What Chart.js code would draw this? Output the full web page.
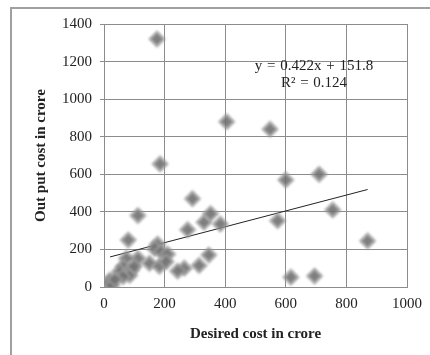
<!DOCTYPE html>
<html>
<head>
<meta charset="utf-8">
<script src="https://cdn.jsdelivr.net/npm/chart.js@4"></script>
<style>
  html, body { margin: 0; padding: 0; background: #fff; }
  #wrap { position: relative; width: 430px; height: 355px; }
  #frame { position: absolute; left: 10px; top: 7px; width: 430px; height: 360px;
           border-left: 2px solid #a0a0a0; border-top: 2px solid #a0a0a0; }
  #eq { position: absolute; left: 246px; top: 57px; width: 136px; font: 15px "Liberation Serif", serif;
        color: #222; text-align: center; line-height: 17px; word-spacing: 1px; }
  canvas { position: absolute; left: 0; top: 0; }
</style>
</head>
<body>
<div id="wrap">
  <div id="frame"></div>
  <canvas id="chart" width="430" height="355"></canvas>
  <div id="eq">y = 0.422x + 151.8<br>R² = 0.124</div>
</div>
<script>
const desiredCost = [175, 185, 405, 548, 600, 710, 755, 573, 870, 617, 695,
  292, 112, 80, 276, 330, 352, 384, 346, 314, 265, 243,
  177, 167, 188, 210, 150, 183, 205, 112, 74, 63, 52, 90, 85, 63, 20, 16, 26, 100, 36];
const outputCost = [1320, 655, 880, 840, 570, 600, 410, 353, 245, 52, 58,
  470, 380, 250, 305, 345, 390, 335, 170, 115, 100, 85,
  228, 205, 188, 175, 126, 110, 135, 152, 152, 108, 82, 90, 62, 55, 37, 20, 10, 110, 40];
const trendX = [20, 870];
const trendY = [160, 519];
const xTicks = [0, 200, 400, 600, 800, 1000];
const yTicks = [0, 200, 400, 600, 800, 1000, 1200, 1400];

const serif = "'Liberation Serif', 'Times New Roman', serif";

// soft edges on the markers, like the original picture
const softMarkers = {
  id: "softMarkers",
  beforeDatasetDraw(chart, args) {
    if (args.index === 0) { chart.ctx.save(); chart.ctx.filter = "blur(1.1px)"; }
  },
  afterDatasetDraw(chart, args) {
    if (args.index === 0) chart.ctx.restore();
  }
};

new Chart(document.getElementById("chart"), {
  type: "scatter",
  data: {
    datasets: [
      {
        data: desiredCost.map((x, i) => ({ x: x, y: outputCost[i] })),
        pointStyle: "rectRot",
        pointRadius: 7,
        backgroundColor: "rgba(112,112,112,0.9)",
        borderColor: "rgba(160,160,160,0.6)",
        borderWidth: 3
      },
      {
        type: "line",
        data: trendX.map((x, i) => ({ x: x, y: trendY[i] })),
        borderColor: "#222",
        borderWidth: 1,
        pointRadius: 0,
        fill: false
      }
    ]
  },
  options: {
    responsive: false,
    animation: false,
    layout: { padding: { left: 28, right: 14, top: 24, bottom: 8 } },
    plugins: { legend: { display: false }, tooltip: { enabled: false } },
    scales: {
      x: {
        type: "linear",
        min: 0, max: 1000,
        afterBuildTicks: (axis) => { axis.ticks = xTicks.map(v => ({ value: v })); },
        afterFit: (axis) => { axis.height = 60; },
        grid: { color: "#8c8c8c", lineWidth: 1, drawTicks: false },
        border: { color: "#8c8c8c" },
        ticks: { color: "#222", font: { family: serif, size: 15 }, padding: 8, maxRotation: 0,
                 callback: (v) => String(v) },
        title: { display: true, text: "Desired cost in crore", color: "#222",
                 font: { family: serif, size: 15, weight: "bold" } }
      },
      y: {
        min: 0, max: 1400,
        afterBuildTicks: (axis) => { axis.ticks = yTicks.map(v => ({ value: v })); },
        afterFit: (axis) => { axis.width = 76; },
        grid: { color: "#8c8c8c", lineWidth: 1, tickLength: 4 },
        border: { color: "#8c8c8c" },
        ticks: { color: "#222", font: { family: serif, size: 15 }, padding: 8,
                 callback: (v) => String(v) },
        title: { display: true, text: "Out put cost in crore", color: "#222",
                 font: { family: serif, size: 15, weight: "bold" } }
      }
    }
  },
  plugins: [softMarkers]
});
</script>
</body>
</html>
